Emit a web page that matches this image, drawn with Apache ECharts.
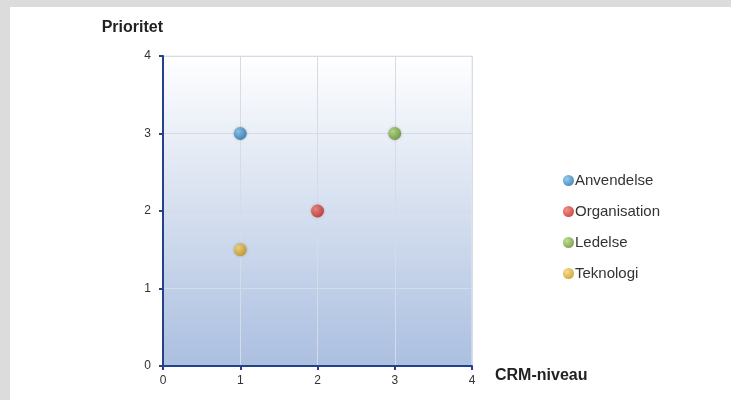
<!DOCTYPE html>
<html><head><meta charset="utf-8">
<script src="https://cdn.jsdelivr.net/npm/echarts@6/dist/echarts.min.js"></script>
<style>html,body{margin:0;padding:0;background:#dcdcdc;}#c{width:731px;height:400px;}</style>
</head><body><div id="c"></div>
<script>
var seriesNames = ['Anvendelse', 'Organisation', 'Ledelse', 'Teknologi'];
var crmLevel = [1, 2, 3, 1];
var priority = [3, 2, 3, 1.5];
var colors = [['#7cc0ec', '#1f6fae'], ['#f07a6e', '#c0201a'], ['#b0d878', '#5c8e28'], ['#f6d870', '#c49010']];
var axisTicks = [0, 1, 2, 3, 4];

var chart = echarts.init(document.getElementById('c'));
function sphere(c) {
  return new echarts.graphic.RadialGradient(0.35, 0.35, 0.7, [
    {offset: 0, color: c[0]}, {offset: 1, color: c[1]}]);
}
var series = seriesNames.map(function (n, i) {
  return {
    name: n, type: 'scatter', symbolSize: 13,
    data: [[crmLevel[i], priority[i]]],
    itemStyle: {color: sphere(colors[i]), shadowBlur: 3, shadowColor: 'rgba(0,0,0,0.25)'}
  };
});
var font = 'Liberation Sans, Arial, sans-serif';
chart.setOption({
  backgroundColor: 'transparent',
  animation: false,
  graphic: [{type: 'rect', z: -10, silent: true, shape: {x: 10, y: 7, width: 721, height: 393}, style: {fill: '#ffffff'}}],
  grid: {left: 163, right: 259, top: 56, bottom: 34, show: true, borderWidth: 1, borderColor: '#e4e6ee',
    backgroundColor: new echarts.graphic.LinearGradient(0, 0, 0, 1, [
      {offset: 0, color: '#ffffff'}, {offset: 1, color: '#abbfe0'}])},
  legend: {
    orient: 'vertical', left: 558, top: 168, itemGap: 16, icon: 'circle', itemWidth: 11, itemHeight: 11,
    textStyle: {fontFamily: font, fontSize: 15, color: '#333', padding: [0, 0, 0, -4]},
    data: seriesNames
  },
  xAxis: {
    type: 'value', min: 0, max: 4, interval: 1,
    name: 'CRM-niveau', nameLocation: 'end', nameGap: 23,
    nameTextStyle: {fontFamily: font, fontSize: 16, fontWeight: 'bold', color: '#222', verticalAlign: 'top', padding: [2, 0, 0, 0]},
    axisLine: {show: true, lineStyle: {color: '#25418a', width: 2}},
    axisTick: {show: true, length: 4, lineStyle: {color: '#25418a', width: 2}},
    axisLabel: {fontFamily: font, fontSize: 12, color: '#333', margin: 9},
    splitLine: {show: true, lineStyle: {color: '#d6dbe8'}}
  },
  yAxis: {
    type: 'value', min: 0, max: 4, interval: 1,
    name: 'Prioritet', nameLocation: 'end', nameGap: 20,
    nameTextStyle: {fontFamily: font, fontSize: 16, fontWeight: 'bold', color: '#222', align: 'right'},
    axisLine: {show: true, lineStyle: {color: '#25418a', width: 2}},
    axisTick: {show: true, length: 4, lineStyle: {color: '#25418a', width: 2}},
    axisLabel: {fontFamily: font, fontSize: 12, color: '#333', margin: 12},
    splitLine: {show: true, lineStyle: {color: '#d6dbe8'}}
  },
  series: series
});
</script></body></html>
